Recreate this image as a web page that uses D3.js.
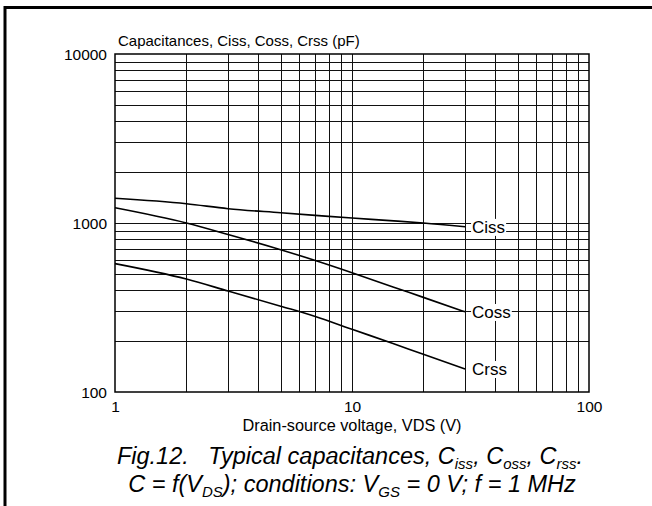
<!DOCTYPE html>
<html>
<head>
<meta charset="utf-8">
<script src="https://cdn.jsdelivr.net/npm/d3@7"></script>
<style>
  html, body { margin: 0; padding: 0; background: #fff; }
  svg { display: block; }
  text { font-family: "Liberation Sans", Arial, sans-serif; fill: #000; }
</style>
</head>
<body>
<svg id="chart" width="652" height="506"></svg>
<script>
// ---- Data ----
const voltages = [1, 2, 3, 5, 7, 10, 15, 20, 30];
const ciss = [1400, 1300, 1215, 1150, 1110, 1070, 1030, 1000, 950];
const coss = [1230, 1000, 855, 695, 600, 508, 417, 363, 298];
const crss = [575, 466, 396, 322, 280, 235, 193, 167, 137];
const seriesNames = ["Ciss", "Coss", "Crss"];
const xTickLabels = ["1", "10", "100"];
const yTickLabels = ["100", "1000", "10000"];
const yTitle = "Capacitances, Ciss, Coss, Crss (pF)";
const xTitle = "Drain-source voltage, VDS (V)";

const svg = d3.select("#chart");
const W = 652, H = 506;

// outer frame (top & left edges visible)
svg.append("line").attr("x1", 5).attr("x2", W).attr("y1", 7.5).attr("y2", 7.5)
  .attr("stroke", "#000").attr("stroke-width", 3);
svg.append("line").attr("x1", 5).attr("x2", 5).attr("y1", 6).attr("y2", H)
  .attr("stroke", "#000").attr("stroke-width", 3);

const x = d3.scaleLog().domain([1, 100]).range([115, 589]);
const y = d3.scaleLog().domain([100, 10000]).range([392, 54]);

// grid
const xGrid = [];
[1, 10].forEach(d => { for (let k = 2; k <= 9; k++) xGrid.push(d * k); });
xGrid.push(10);
const yGrid = [];
[100, 1000].forEach(d => { for (let k = 2; k <= 9; k++) yGrid.push(d * k); });
yGrid.push(1000);

const g = svg.append("g");
g.selectAll("line.vg").data(xGrid).join("line").attr("class", "vg")
  .attr("x1", d => Math.round(x(d)) + 0.5).attr("x2", d => Math.round(x(d)) + 0.5)
  .attr("y1", y(10000)).attr("y2", y(100))
  .attr("stroke", "#111").attr("stroke-width", 1).attr("shape-rendering", "crispEdges");
g.selectAll("line.hg").data(yGrid).join("line").attr("class", "hg")
  .attr("y1", d => Math.round(y(d)) + 0.5).attr("y2", d => Math.round(y(d)) + 0.5)
  .attr("x1", x(1)).attr("x2", x(100))
  .attr("stroke", "#111").attr("stroke-width", 1).attr("shape-rendering", "crispEdges");

// plot frame
g.append("rect").attr("x", x(1)).attr("y", y(10000))
  .attr("width", x(100) - x(1)).attr("height", y(100) - y(10000))
  .attr("fill", "none").attr("stroke", "#000").attr("stroke-width", 1.5);

// axes (labels only; no tick marks)
const xAxis = d3.axisBottom(x).tickValues([1, 10, 100]).tickSize(0)
  .tickFormat((d, i) => xTickLabels[i]);
const xa = svg.append("g").attr("transform", `translate(0,${y(100)})`).call(xAxis);
xa.select(".domain").remove();
xa.selectAll("text").attr("dy", null).attr("y", 20).style("font-size", "15.5px")
  .attr("font-family", "Liberation Sans, Arial, sans-serif");

const yAxis = d3.axisLeft(y).tickValues([100, 1000, 10000]).tickSize(0)
  .tickFormat((d, i) => yTickLabels[i]);
const ya = svg.append("g").attr("transform", `translate(${x(1)},0)`).call(yAxis);
ya.select(".domain").remove();
ya.selectAll("text").attr("x", -8).attr("dy", "0.36em").style("font-size", "15.5px")
  .attr("font-family", "Liberation Sans, Arial, sans-serif");

// titles
svg.append("text").attr("x", 118).attr("y", 46).style("font-size", "15px").text(yTitle);
svg.append("text").attr("x", (x(1) + x(100)) / 2).attr("y", 431)
  .attr("text-anchor", "middle").style("font-size", "16.3px").text(xTitle);

// curves
const line = d3.line().x((d, i) => x(voltages[i])).y(d => y(d)).curve(d3.curveMonotoneX);
[ciss, coss, crss].forEach(s => {
  svg.append("path").datum(s).attr("d", line).attr("fill", "none")
    .attr("stroke", "#000").attr("stroke-width", 1.6);
});

// series labels with white background
const lastV = voltages[voltages.length - 1];
[ciss, coss, crss].forEach((s, i) => {
  const lx = x(lastV) + 7, ly = y(s[s.length - 1]);
  const t = svg.append("text").attr("x", lx).attr("y", ly).attr("dy", "0.36em")
    .style("font-size", "17px").text(seriesNames[i]);
  const b = t.node().getBBox();
  svg.insert("rect", () => t.node()).attr("x", b.x - 1).attr("y", b.y + 1)
    .attr("width", b.width + 2).attr("height", b.height - 2).attr("fill", "#fff");
});

// caption
const cap = svg.append("g").style("font-style", "italic").style("font-size", "23.5px");
const l1 = cap.append("text").attr("x", 350).attr("y", 464).attr("text-anchor", "middle");
l1.append("tspan").text("Fig.12.\u00A0\u00A0\u00A0Typical capacitances, C");
l1.append("tspan").attr("dy", 5).style("font-size", "15px").text("iss");
l1.append("tspan").attr("dy", -5).text(", C");
l1.append("tspan").attr("dy", 5).style("font-size", "15px").text("oss");
l1.append("tspan").attr("dy", -5).text(", C");
l1.append("tspan").attr("dy", 5).style("font-size", "15px").text("rss");
l1.append("tspan").attr("dy", -5).text(".");

const l2 = cap.append("text").attr("x", 352).attr("y", 492).attr("text-anchor", "middle");
l2.append("tspan").text("C = f(V");
l2.append("tspan").attr("dy", 5).style("font-size", "15px").text("DS");
l2.append("tspan").attr("dy", -5).text("); conditions: V");
l2.append("tspan").attr("dy", 5).style("font-size", "15px").text("GS");
l2.append("tspan").attr("dy", -5).text(" = 0 V; f = 1 MHz");
</script>
</body>
</html>
